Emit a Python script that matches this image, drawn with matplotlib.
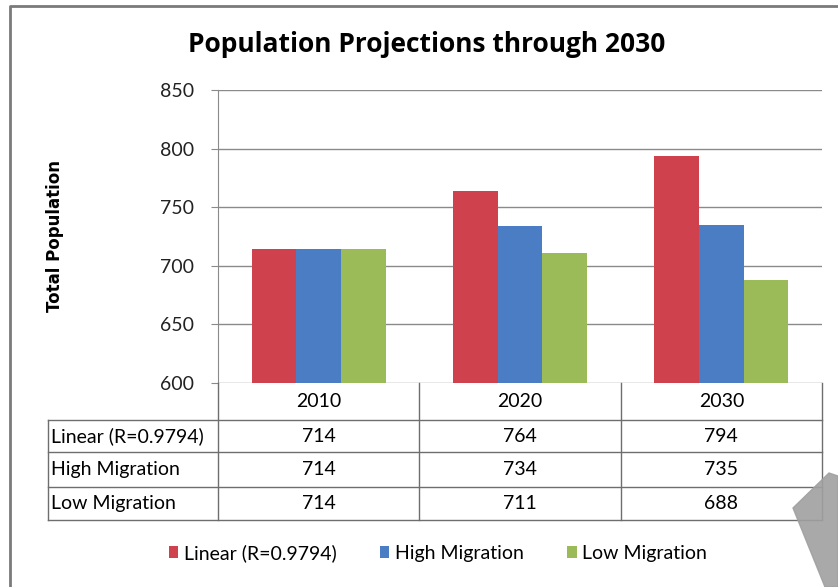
import matplotlib
matplotlib.use("Agg")
import matplotlib.pyplot as plt
import matplotlib.transforms as mtrans
from matplotlib.patches import Polygon
import numpy as np

plt.rcParams['font.family'] = ['Lato', 'DejaVu Sans']

# donnees
annees = ["2010", "2020", "2030"]
series = ["Linear (R=0.9794)", "High Migration", "Low Migration"]
lineaire = [714, 764, 794]
migration_haute = [714, 734, 735]
migration_basse = [714, 711, 688]
couleurs = ["#D0414E", "#4A7DC4", "#9BBB59"]

W, H = 838, 587
fig = plt.figure(figsize=(W / 100, H / 100), dpi=100)

def fx(px):
    return px / W

def fy(py):
    return 1 - py / H

# cadre du graphique (gauche et haut seulement, le reste sort de l'image)
fig.add_artist(plt.Line2D([fx(10), fx(10), 1], [0, fy(6), fy(6)],
                          transform=fig.transFigure, color="#7a7a7a",
                          linewidth=2.0))

ax = fig.add_axes([fx(218), fy(383), fx(822) - fx(218), fy(90) - fy(383)])

x = np.arange(len(annees))
largeur = 0.222
valeurs = [lineaire, migration_haute, migration_basse]
for i, (v, c, nom) in enumerate(zip(valeurs, couleurs, series)):
    ax.bar(x + (i - 1) * largeur, v, largeur, color=c, label=nom, zorder=3)

ax.set_ylim(600, 850)
ax.set_xlim(-0.5, len(annees) - 0.5)
ax.set_yticks(np.arange(600, 851, 50))
ax.yaxis.grid(True, color="#8a8a8a", linewidth=1.0, zorder=0)
ax.set_xticks([])
for s in ["top", "right", "bottom"]:
    ax.spines[s].set_visible(False)
ax.spines["left"].set_color("#8a8a8a")
ax.tick_params(axis="y", length=5, color="#8a8a8a", labelsize=14, pad=12,
               labelcolor="#222222")

# titre de l'axe y
fig.text(fx(55), fy(236), "Total Population", rotation=90, ha="center",
         va="center", fontsize=12, fontweight="bold", family=["DejaVu Sans"])

fig.text(fx(427), fy(45), "Population Projections through 2030", ha="center",
         va="center", fontsize=19, fontweight="bold",
         family=["Open Sans", "DejaVu Sans"])

# tableau de donnees sous le graphique
trans = mtrans.blended_transform_factory(ax.transData, fig.transFigure)
lc = "#6e6e6e"
lignes_y = [383, 420, 452, 487, 520]
for b in np.arange(-0.5, len(annees), 1.0):
    fig.add_artist(plt.Line2D([b, b], [fy(383), fy(520)], transform=trans,
                              color=lc, linewidth=1))
for py in lignes_y[1:]:
    fig.add_artist(plt.Line2D([fx(48), fx(822)], [fy(py), fy(py)],
                              transform=fig.transFigure, color=lc, linewidth=1))
fig.add_artist(plt.Line2D([fx(48), fx(48)], [fy(420), fy(520)],
                          transform=fig.transFigure, color=lc, linewidth=1))

for j, a in enumerate(annees):
    fig.text(j, fy((383 + 420) / 2), a, transform=trans, ha="center",
             va="center", fontsize=14)
for i, (nom, v) in enumerate(zip(series, valeurs)):
    yc = fy((lignes_y[i + 1] + lignes_y[i + 2]) / 2)
    fig.text(fx(51), yc, nom, ha="left", va="center", fontsize=14)
    for j, val in enumerate(v):
        fig.text(j, yc, str(val), transform=trans, ha="center", va="center",
                 fontsize=14)

leg = fig.legend(loc="center", bbox_to_anchor=(fx(438), fy(553)), ncol=3,
                 frameon=False, fontsize=14, handlelength=0.5, handleheight=0.6,
                 handletextpad=0.3, columnspacing=2.2)

# ombre grise du scan en bas a droite
fig.patches.append(Polygon([(fx(793), fy(508)), (fx(829), fy(473)),
                            (fx(838), fy(476)), (fx(838), fy(587)),
                            (fx(825), fy(587))], closed=True,
                           transform=fig.transFigure, color="#a0a0a0",
                           alpha=0.9, zorder=5))

fig.savefig("out.png", dpi=100)
